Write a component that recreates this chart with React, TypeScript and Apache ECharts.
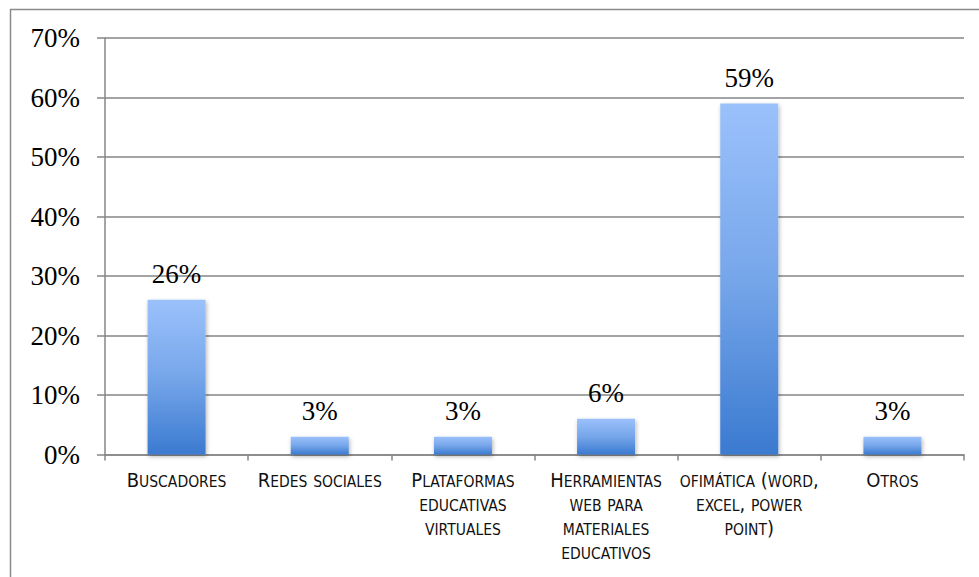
import React, { useEffect, useRef } from "react";
import * as echarts from "echarts";

const categories = [
  "Buscadores",
  "Redes sociales",
  "Plataformas\neducativas\nvirtuales",
  "Herramientas\nweb para\nmateriales\neducativos",
  "ofimática (word,\nexcel, power\npoint)",
  "Otros",
];
const values = [26, 3, 3, 6, 59, 3];
const yMin = 0;
const yMax = 70;
const yStep = 10;

function smallCaps(text: string): string {
  return text
    .split("\n")
    .map((line) => {
      let out = "";
      let cur = "";
      let curStyle = "";
      for (const ch of line) {
        const isLower = ch !== ch.toUpperCase();
        const st = isLower ? "s" : "b";
        const c = isLower ? ch.toUpperCase() : ch;
        if (st !== curStyle && cur) {
          out += `{${curStyle}|${cur}}`;
          cur = "";
        }
        curStyle = st;
        cur += c;
      }
      if (cur) out += `{${curStyle}|${cur}}`;
      return out;
    })
    .join("\n");
}

const catFont = '"Liberation Sans Narrow", "Arial Narrow", "DejaVu Sans Condensed", sans-serif';
const serif = '"Liberation Serif", "Times New Roman", serif';

export default function App() {
  const ref = useRef<HTMLDivElement>(null);
  useEffect(() => {
    if (!ref.current) return;
    const chart = echarts.init(ref.current, null, { renderer: "svg" });
    chart.setOption({
      animation: false,
      backgroundColor: "#ffffff",
      graphic: [
        {
          type: "line",
          shape: { x1: 10, y1: 9.5, x2: 979, y2: 9.5 },
          style: { stroke: "#8a8a8a", lineWidth: 1.5 },
        },
        {
          type: "line",
          shape: { x1: 10.5, y1: 9, x2: 10.5, y2: 577 },
          style: { stroke: "#8a8a8a", lineWidth: 1.5 },
        },
      ],
      grid: { left: 105, right: 15, top: 38, bottom: 122.5, containLabel: false },
      xAxis: {
        type: "category",
        data: categories,
        axisLine: { show: true, lineStyle: { color: "#868686", width: 1.5 } },
        axisTick: { show: true, length: 6, lineStyle: { color: "#868686", width: 1.5 } },
        axisLabel: {
          interval: 0,
          margin: 11,
          color: "#111",
          align: "center",
          formatter: (v: string) => smallCaps(v),
          rich: {
            b: { fontFamily: catFont, fontSize: 20, lineHeight: 24, verticalAlign: "bottom", color: "#111" },
            s: { fontFamily: catFont, fontSize: 15.5, lineHeight: 24, verticalAlign: "bottom", color: "#111" },
          },
        },
      },
      yAxis: {
        type: "value",
        min: yMin,
        max: yMax,
        interval: yStep,
        axisLine: { show: true, lineStyle: { color: "#868686", width: 1.5 } },
        axisTick: { show: true, length: 8, lineStyle: { color: "#868686", width: 1.5 } },
        splitLine: { show: true, lineStyle: { color: "#868686", width: 1.5 } },
        axisLabel: {
          formatter: "{value}%",
          margin: 25,
          color: "#000",
          fontFamily: serif,
          fontSize: 27,
        },
      },
      series: [
        {
          type: "bar",
          data: values,
          barWidth: 58,
          itemStyle: {
            color: new echarts.graphic.LinearGradient(0, 0, 0, 1, [
              { offset: 0, color: "#9bc1fb" },
              { offset: 0.5, color: "#76a6ea" },
              { offset: 1, color: "#3b7ad0" },
            ]),
            shadowBlur: 4,
            shadowColor: "rgba(0,0,0,0.3)",
            shadowOffsetX: 1,
            shadowOffsetY: 2,
          },
          label: {
            show: true,
            position: "top",
            distance: 12,
            formatter: "{c}%",
            fontFamily: serif,
            fontSize: 27,
            color: "#000",
          },
        },
      ],
    });
    return () => chart.dispose();
  }, []);
  return (
    <div
      ref={ref}
      style={{ position: "absolute", left: 0, top: 0, width: 979, height: 577 }}
    />
  );
}
